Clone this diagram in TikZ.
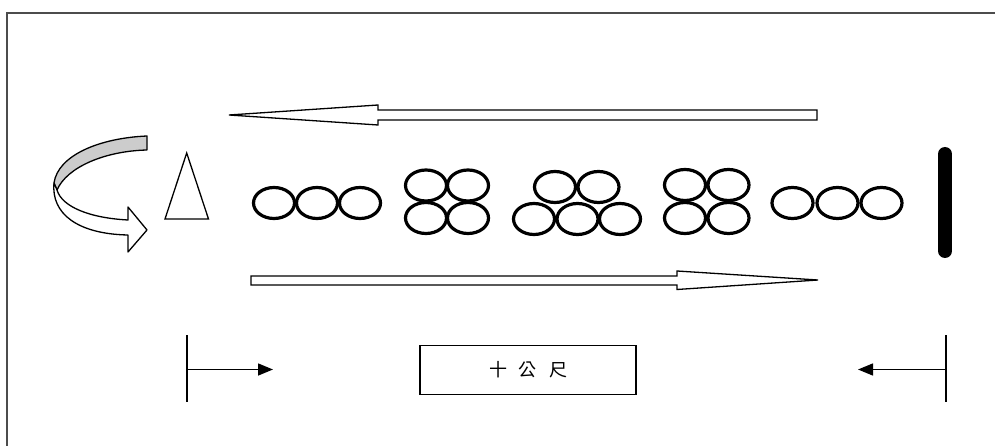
\documentclass[tikz,border=0pt]{standalone}
\usepackage{fontspec}
\newfontfamily\cjk{Noto Sans CJK TC}
\usetikzlibrary{shapes.geometric,arrows.meta}
\begin{document}
\begin{tikzpicture}[x=1pt,y=-1pt,
  ring/.style={ellipse,draw,line width=3.2pt,minimum width=41pt,minimum height=31pt,inner sep=0pt},
  blockarrow/.style={draw,fill=white,line width=1.3pt,line join=miter},
  dimline/.style={line width=1.5pt},
  dimarrow/.style={line width=1.5pt,-{Triangle[length=15pt,width=12pt]}},
  frameline/.style={line width=1.2pt,draw=black!70}]
\useasboundingbox (0,0) rectangle (995,446);

% frame (top and left edges)
\draw[frameline] (7,446) -- (7,13) -- (995,13);

% long block arrow pointing left
\draw[blockarrow] (229,115) -- (378,105) -- (378,110) -- (817,110) -- (817,120)
  -- (378,120) -- (378,125) -- cycle;

% long block arrow pointing right
\draw[blockarrow] (251,276) -- (677,276) -- (677,271) -- (818,280) -- (677,289.5)
  -- (677,285) -- (251,285) -- cycle;

% curved turning arrow: grey back face, then white front face
\draw[line width=1.3pt,fill=black!20,line join=round]
  (147,136) .. controls (100,138) and (58,155) .. (54,183)
  -- (57,190) .. controls (67,167) and (105,151) .. (147,150) -- cycle;
\draw[blockarrow,line join=round]
  (54,183) .. controls (51,214) and (78,234) .. (128,235)
  -- (128,252) -- (147,230) -- (128,207) -- (128,220)
  .. controls (90,218) and (62,207) .. (57,190) -- cycle;

% cone
\draw[line width=1.3pt,line join=miter] (186.7,153) -- (208.5,219) -- (165,219) -- cycle;

% row of three
\node[ring] (a1) at (274,203) {};
\node[ring] (a2) at (317,203) {};
\node[ring] (a3) at (360,203) {};
% square of four
\node[ring] (b1) at (426,185.5) {};
\node[ring] (b2) at (468,185.5) {};
\node[ring] (b3) at (426,218) {};
\node[ring] (b4) at (468,218) {};
% two over three
\node[ring] (c1) at (555,187) {};
\node[ring] (c2) at (598.5,187) {};
\node[ring] (c3) at (534,219) {};
\node[ring] (c4) at (577.5,219) {};
\node[ring] (c5) at (620,219) {};
% square of four
\node[ring] (d1) at (685,185) {};
\node[ring] (d2) at (728.5,185) {};
\node[ring] (d3) at (685,218) {};
\node[ring] (d4) at (728.5,218) {};
% row of three
\node[ring] (e1) at (792.5,203) {};
\node[ring] (e2) at (837.5,203) {};
\node[ring] (e3) at (881.5,203) {};

% end post
\coordinate (bartop) at (945,154);
\coordinate (barbot) at (945,251);
\draw[line width=14pt,line cap=round] (bartop) -- (barbot);

% distance marks
\coordinate (ltop) at (187,335);
\coordinate (lbot) at (187,402);
\coordinate (lmid) at (187,369.5);
\coordinate (ltip) at (273,369.5);
\draw[dimline] (ltop) -- (lbot);
\draw[dimarrow] (lmid) -- (ltip);

\coordinate (rtop) at (946,335);
\coordinate (rbot) at (946,402);
\coordinate (rmid) at (946,369.5);
\coordinate (rtip) at (858,369.5);
\draw[dimline] (rtop) -- (rbot);
\draw[dimarrow] (rmid) -- (rtip);

\node[draw,line width=1.2pt,minimum width=216pt,minimum height=49pt,inner sep=0pt] (dist) at (528,370)
  {\cjk\fontsize{18}{18}\selectfont 十\hspace{12pt}公\hspace{12pt}尺};
\end{tikzpicture}
\end{document}
